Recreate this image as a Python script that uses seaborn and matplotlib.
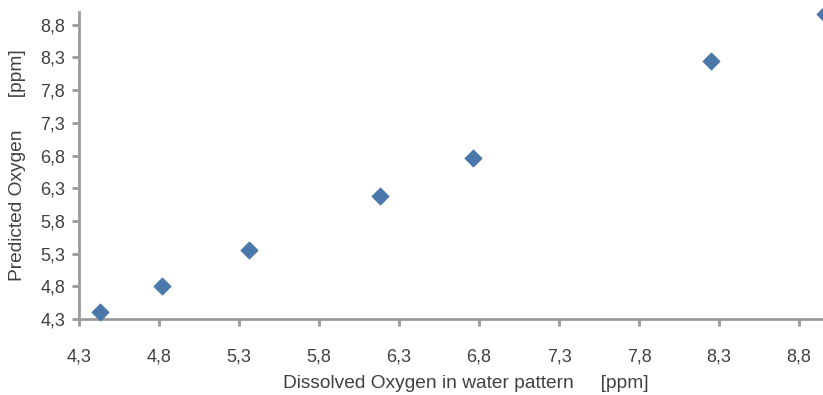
import matplotlib
matplotlib.use("Agg")
import matplotlib.pyplot as plt
import seaborn as sns
import pandas as pd
from matplotlib.ticker import FixedLocator, FuncFormatter

measured = [4.43, 4.82, 5.36, 6.18, 6.76, 8.25, 8.96]
predicted = [4.41, 4.80, 5.36, 6.18, 6.76, 8.24, 8.96]
tick_values = [4.3, 4.8, 5.3, 5.8, 6.3, 6.8, 7.3, 7.8, 8.3, 8.8]
x_label = "Dissolved Oxygen in water pattern     [ppm]"
y_label = "Predicted Oxygen      [ppm]"

df = pd.DataFrame({"measured": measured, "predicted": predicted})

sns.set_theme(style="white")
plt.rcParams["font.family"] = ["Liberation Sans", "DejaVu Sans"]

fig = plt.figure(figsize=(8.23, 3.95), dpi=100)
ax = fig.add_axes([79/823, 1 - 319/395, 1 - 79/823, (319 - 11.7)/395])

sns.scatterplot(data=df, x="measured", y="predicted", marker="D", s=78,
                color="#4a78ab", edgecolor="#4a78ab", linewidth=0.5, ax=ax,
                clip_on=False, zorder=3)

ax.set_xlim(4.3, 4.3 + 744/160)
ax.set_ylim(4.3, 9.0)

fmt = FuncFormatter(lambda v, p: f"{v:.1f}".replace(".", ","))
ax.xaxis.set_major_locator(FixedLocator(tick_values))
ax.yaxis.set_major_locator(FixedLocator(tick_values))
ax.xaxis.set_major_formatter(fmt)
ax.yaxis.set_major_formatter(fmt)

grey = "#9a9a9a"
for side in ["top", "right"]:
    ax.spines[side].set_visible(False)
for side in ["left", "bottom"]:
    ax.spines[side].set_color(grey)
    ax.spines[side].set_linewidth(2)

fs = 13
ax.tick_params(axis="x", direction="out", length=5, width=2, color=grey,
               labelsize=fs, labelcolor="#404040", pad=16, bottom=True)
ax.tick_params(axis="y", direction="out", length=5, width=2, color=grey,
               labelsize=fs, labelcolor="#404040", pad=5, left=True)

ax.set_xlabel(x_label, fontsize=13.8, color="#404040")
ax.set_ylabel(y_label, fontsize=13.8, color="#404040")
ax.xaxis.set_label_coords((466 - 79)/744, -(384 - 319)/307.3, transform=ax.transAxes)
ax.yaxis.set_label_coords(-(79 - 18)/744, 0.5, transform=ax.transAxes)
ax.xaxis.label.set_va("center")
ax.yaxis.label.set_va("center")

fig.savefig("out.png", dpi=100)
